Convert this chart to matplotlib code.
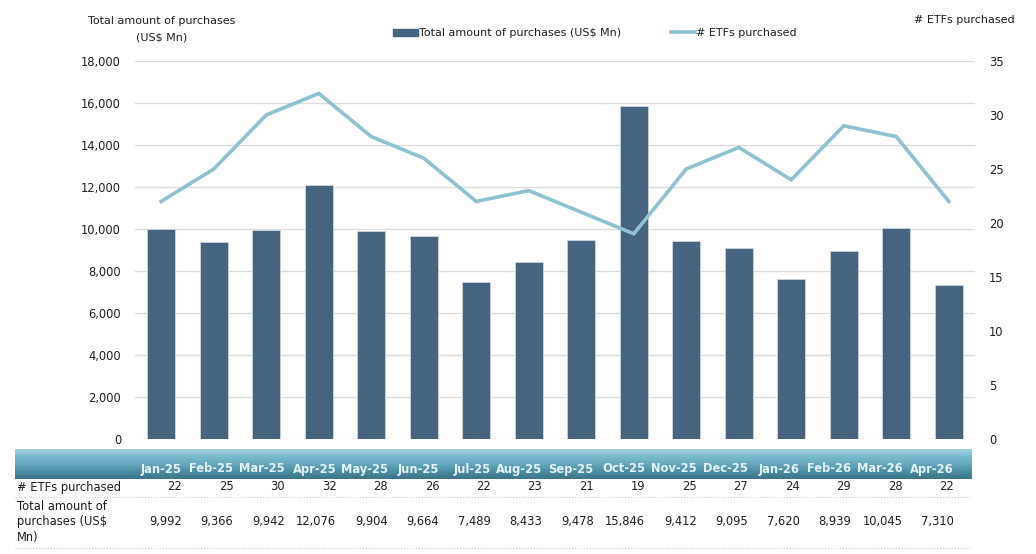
import matplotlib.pyplot as plt
import numpy as np
from matplotlib.colors import LinearSegmentedColormap
from matplotlib.patches import Rectangle
from matplotlib.lines import Line2D

months = ["Jan-25", "Feb-25", "Mar-25", "Apr-25", "May-25", "Jun-25", "Jul-25", "Aug-25",
          "Sep-25", "Oct-25", "Nov-25", "Dec-25", "Jan-26", "Feb-26", "Mar-26", "Apr-26"]
etfs_purchased = [22, 25, 30, 32, 28, 26, 22, 23, 21, 19, 25, 27, 24, 29, 28, 22]
purchases_usd_mn = [9992, 9366, 9942, 12076, 9904, 9664, 7489, 8433,
                    9478, 15846, 9412, 9095, 7620, 8939, 10045, 7310]

BAR_COLOR = "#46637f"
LINE_COLOR = "#8fc2d1"
GRID_COLOR = "#dcdcdc"
TEXT_COLOR = "#1e1e1e"

plt.rcParams["font.family"] = ["DejaVu Sans"]

W, H = 1036, 554
fig = plt.figure(figsize=(W / 100, H / 100), dpi=100)


def px(x0, y0, x1, y1):
    # pixel box -> figure fraction [left, bottom, width, height]
    return [x0 / W, 1 - y1 / H, (x1 - x0) / W, (y1 - y0) / H]


ax = fig.add_axes(px(135, 61, 975, 439))
x = np.arange(len(months))
ax.bar(x, purchases_usd_mn, width=0.54, color=BAR_COLOR, edgecolor="#c9d6e0",
       linewidth=0.6, zorder=2)
ax.set_xlim(-0.5, len(months) - 0.5)
ax.set_ylim(0, 18000)
ax.set_yticks(np.arange(0, 18001, 2000))
ax.set_yticklabels([f"{v:,}" for v in range(0, 18001, 2000)])
ax.set_xticks([])
ax.grid(axis="y", color=GRID_COLOR, linewidth=1.0, zorder=0)
for s in ax.spines.values():
    s.set_visible(False)
ax.tick_params(axis="y", length=0, pad=10, labelsize=8.3, labelcolor=TEXT_COLOR)

ax2 = ax.twinx()
ax2.plot(x, etfs_purchased, color=LINE_COLOR, linewidth=2.6, zorder=3,
         solid_joinstyle="miter")
ax2.set_ylim(0, 35)
ax2.set_yticks(np.arange(0, 36, 5))
for s in ax2.spines.values():
    s.set_visible(False)
ax2.tick_params(axis="y", length=0, pad=10, labelsize=8.3, labelcolor=TEXT_COLOR)

# axis titles
fig.text(162 / W, 1 - 21 / H, "Total amount of purchases", ha="center", va="center",
         fontsize=8, color=TEXT_COLOR)
fig.text(162 / W, 1 - 38 / H, "(US$ Mn)", ha="center", va="center",
         fontsize=8, color=TEXT_COLOR)
fig.text(1015 / W, 1 - 20 / H, "# ETFs purchased", ha="right", va="center",
         fontsize=8, color=TEXT_COLOR)

# legend
handles = [Rectangle((0, 0), 1, 1, color=BAR_COLOR),
           Line2D([0], [0], color=LINE_COLOR, linewidth=2.6)]
fig.legend(handles, ["Total amount of purchases (US$ Mn)", "# ETFs purchased"],
           loc="center", bbox_to_anchor=(595 / W, 1 - 33 / H), ncol=2, frameon=False,
           fontsize=8, handlelength=2.2, handleheight=0.6, handletextpad=0.1,
           columnspacing=4.5, labelcolor=TEXT_COLOR)

# data table below the chart
tab = fig.add_axes(px(15, 448, 972, 552))
col_w = 51.47
x0 = 1 - (183 - 15) / col_w
x1 = 1 + (972 - 183) / col_w
tab.axis("off")

header_cmap = LinearSegmentedColormap.from_list(
    "hdr", ["#a3d4e3", "#79bace", "#66a9bf", "#4b8ea4", "#3a7387"])
grad = np.linspace(0, 1, 64).reshape(-1, 1)
tab.imshow(grad, cmap=header_cmap, aspect="auto", extent=(x0, x1, 31, 1),
           interpolation="bicubic", zorder=1)
tab.set_xlim(x0, x1)
tab.set_ylim(104, 0)

for i, m in enumerate(months):
    right = i + 1 - 0.02
    tab.text(right, 21, m, ha="right", va="center", fontsize=8.3, fontweight="bold",
             color="#e3f2f7", zorder=2)
    tab.text(right, 39, f"{etfs_purchased[i]}", ha="right", va="center",
             fontsize=8.3, color=TEXT_COLOR)
    tab.text(right, 74, f"{purchases_usd_mn[i]:,}", ha="right", va="center",
             fontsize=8.3, color=TEXT_COLOR)

tab.text(x0 + 0.03, 39, "# ETFs purchased", ha="left", va="center",
         fontsize=8.3, color=TEXT_COLOR)
tab.text(x0 + 0.03, 74, "Total amount of\npurchases (US$\nMn)", ha="left", va="center",
         fontsize=8.3, color=TEXT_COLOR, linespacing=1.2)
tab.plot([x0, x1], [49, 49], color="#cccccc", linestyle=":", linewidth=0.8)
tab.plot([x0, x1], [100, 100], color="#cccccc", linestyle=":", linewidth=0.8)

fig.savefig("out.png", dpi=100)
